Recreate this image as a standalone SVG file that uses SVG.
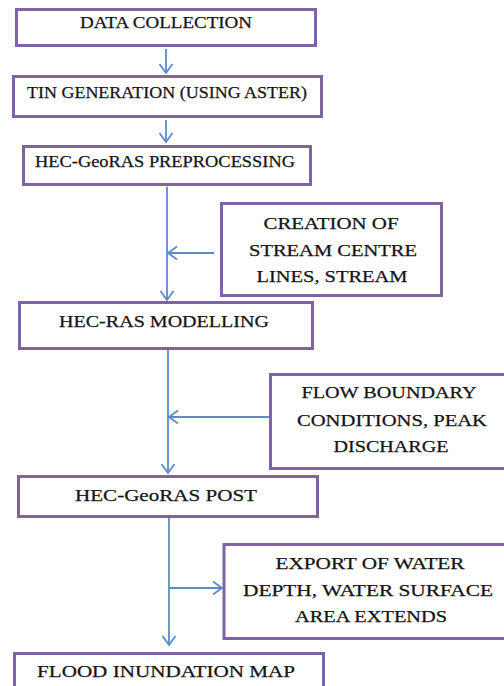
<svg xmlns="http://www.w3.org/2000/svg" width="504" height="686" viewBox="0 0 504 686">
<defs>
<style>
.box{fill:#fff;stroke:#8064A2;stroke-width:3}
.t{font-family:"Liberation Serif","Times New Roman",serif;font-size:17.5px;fill:#141414;stroke:#141414;stroke-width:0.25;text-anchor:middle}
.c{stroke:#5B8BC9;stroke-width:1.8;fill:none}
</style>
<marker id="ah" markerUnits="userSpaceOnUse" markerWidth="14" markerHeight="16" viewBox="0 0 14 16" refX="12" refY="8" orient="auto">
<path d="M3,1.5 L12,8 L3,14.5" fill="none" stroke="#5B8BC9" stroke-width="1.8"/>
</marker>
</defs>
<rect width="504" height="686" fill="#fff"/>
<g id="connectors">
<line class="c" x1="166" y1="49" x2="166" y2="73" marker-end="url(#ah)"/>
<line class="c" x1="166" y1="120" x2="166" y2="142" marker-end="url(#ah)"/>
<line class="c" x1="167" y1="187" x2="167" y2="300" marker-end="url(#ah)"/>
<line class="c" x1="214" y1="253" x2="168" y2="253" marker-end="url(#ah)"/>
<line class="c" x1="168" y1="350" x2="168" y2="473" marker-end="url(#ah)"/>
<line class="c" x1="269" y1="417" x2="169" y2="417" marker-end="url(#ah)"/>
<line class="c" x1="169" y1="518" x2="169" y2="645" marker-end="url(#ah)"/>
<line class="c" x1="169" y1="588" x2="222" y2="588" marker-end="url(#ah)"/>
</g>
<g id="data-collection">
<rect class="box" x="16.5" y="9.5" width="299" height="36"/>
<text class="t" x="166" y="28" textLength="172" lengthAdjust="spacingAndGlyphs">DATA COLLECTION</text>
</g>
<g id="tin-generation">
<rect class="box" x="13.5" y="76.5" width="308" height="40"/>
<text class="t" x="167" y="98" textLength="280" lengthAdjust="spacingAndGlyphs">TIN GENERATION (USING ASTER)</text>
</g>
<g id="preprocessing">
<rect class="box" x="23.5" y="146.5" width="287" height="38"/>
<text class="t" x="165" y="167" textLength="260" lengthAdjust="spacingAndGlyphs">HEC-GeoRAS PREPROCESSING</text>
</g>
<g id="stream-centre">
<rect class="box" x="221.5" y="203.5" width="220" height="92"/>
<text class="t" x="331" y="229" textLength="135" lengthAdjust="spacingAndGlyphs">CREATION OF</text>
<text class="t" x="333" y="256" textLength="168" lengthAdjust="spacingAndGlyphs">STREAM CENTRE</text>
<text class="t" x="332" y="282" textLength="151" lengthAdjust="spacingAndGlyphs">LINES, STREAM</text>
</g>
<g id="hec-ras-modelling">
<rect class="box" x="19.5" y="302.5" width="293" height="46"/>
<text class="t" x="164" y="327" textLength="210" lengthAdjust="spacingAndGlyphs">HEC-RAS MODELLING</text>
</g>
<g id="flow-boundary">
<rect class="box" x="270.5" y="374.5" width="250" height="94"/>
<text class="t" x="389" y="398" textLength="175" lengthAdjust="spacingAndGlyphs">FLOW BOUNDARY</text>
<text class="t" x="392" y="426" textLength="190" lengthAdjust="spacingAndGlyphs">CONDITIONS, PEAK</text>
<text class="t" x="391" y="452" textLength="115" lengthAdjust="spacingAndGlyphs">DISCHARGE</text>
</g>
<g id="hec-georas-post">
<rect class="box" x="18.5" y="476.5" width="299" height="40"/>
<text class="t" x="166" y="501" textLength="182" lengthAdjust="spacingAndGlyphs">HEC-GeoRAS POST</text>
</g>
<g id="export">
<rect class="box" x="224" y="544.5" width="300" height="94"/>
<text class="t" x="370" y="569" textLength="189" lengthAdjust="spacingAndGlyphs">EXPORT OF WATER</text>
<text class="t" x="368" y="596" textLength="250" lengthAdjust="spacingAndGlyphs">DEPTH, WATER SURFACE</text>
<text class="t" x="371" y="622" textLength="152" lengthAdjust="spacingAndGlyphs">AREA EXTENDS</text>
</g>
<g id="flood-map">
<rect class="box" x="14.5" y="653.5" width="309" height="50"/>
<text class="t" x="166" y="677" textLength="258" lengthAdjust="spacingAndGlyphs">FLOOD INUNDATION MAP</text>
</g>
</svg>
